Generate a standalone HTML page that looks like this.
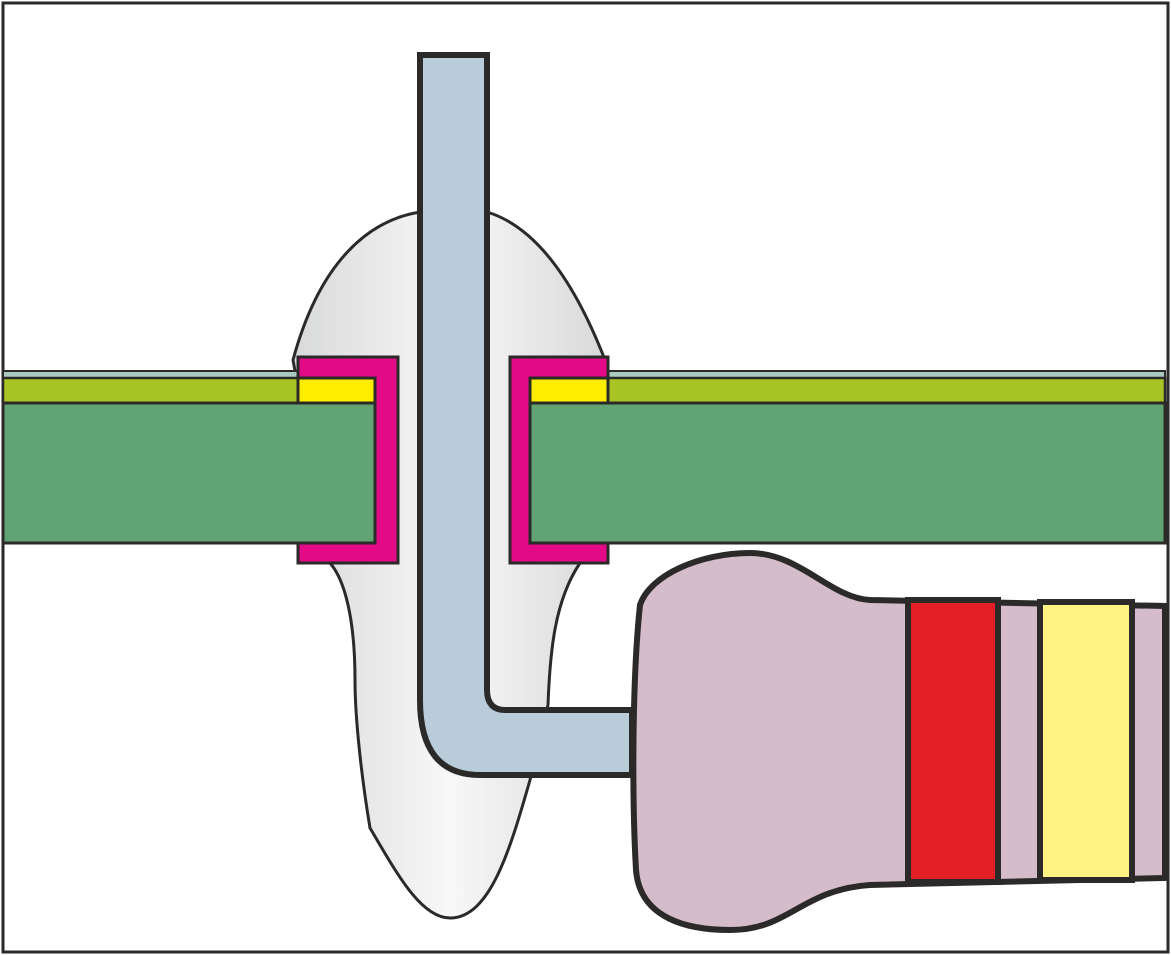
<!DOCTYPE html>
<html><head><style>html,body{margin:0;padding:0;background:#fff}svg{display:block}</style></head><body>
<svg width="1171" height="955" viewBox="0 0 1171 955" xmlns="http://www.w3.org/2000/svg">
<defs>
<linearGradient id="g" x1="0" x2="1" y1="0" y2="0">
<stop offset="0" stop-color="#d8d9da"/><stop offset="0.5" stop-color="#f8f8f8"/><stop offset="1" stop-color="#d8d9da"/>
</linearGradient>
</defs>
<rect x="3" y="3" width="1165" height="949" fill="#fff" stroke="#2b2a29" stroke-width="3"/>
<!-- bulb -->
<path d="M293,360 C320,260 370,220 420,212 L487,212 C530,225 570,270 605,360 L580,563 C555,600 550,650 548,705 L530,780 C510,850 490,918 450,918 C420,918 395,870 370,828 C362,780 355,720 355,680 C355,620 345,580 330,563 Z" fill="url(#g)" stroke="#2b2a29" stroke-width="3"/>
<!-- plates -->
<rect x="3" y="371" width="295" height="7" fill="#a9c9c2" stroke="#2b2a29" stroke-width="2"/>
<rect x="608" y="371" width="557" height="7" fill="#a9c9c2" stroke="#2b2a29" stroke-width="2"/>
<rect x="3" y="378" width="295" height="25" fill="#a8c424" stroke="#2b2a29" stroke-width="2.5"/>
<rect x="608" y="378" width="557" height="25" fill="#a8c424" stroke="#2b2a29" stroke-width="2.5"/>
<rect x="3" y="403" width="372" height="140" fill="#61a373" stroke="#2b2a29" stroke-width="3"/>
<rect x="530" y="403" width="635" height="140" fill="#61a373" stroke="#2b2a29" stroke-width="3"/>
<!-- pink clips -->
<path d="M298,357 H398 V563 H298 V543 H375 V378 H298 Z" fill="#e20a87" stroke="#2b2a29" stroke-width="3"/>
<rect x="298" y="378" width="77" height="25" fill="#ffed00" stroke="#2b2a29" stroke-width="3"/>
<path d="M608,357 H510 V563 H608 V543 H530 V378 H608 Z" fill="#e20a87" stroke="#2b2a29" stroke-width="3"/>
<rect x="530" y="378" width="78" height="25" fill="#ffed00" stroke="#2b2a29" stroke-width="3"/>
<!-- pin -->
<path d="M420,55 H487 V690 C487,703 493,710 505,710 H632 V775 H480 C440,775 420,750 420,700 Z" fill="#b8ccd9" stroke="#2b2a29" stroke-width="6"/>
<!-- resistor -->
<path d="M640,605 C650,575 700,553 750,553 C800,553 830,598 870,600 L1165,606 L1165,878 L870,885 C800,890 790,930 730,930 C690,930 640,920 636,870 C632,800 632,680 640,605 Z" fill="#d5bccb" stroke="#2b2a29" stroke-width="6"/>
<rect x="908" y="600" width="90" height="282" fill="#e31e24" stroke="#2b2a29" stroke-width="6"/>
<rect x="1040" y="602" width="92" height="278" fill="#fff385" stroke="#2b2a29" stroke-width="6"/>
<line x1="1165" y1="606" x2="1165" y2="878" stroke="#2b2a29" stroke-width="6"/>
</svg>
</body></html>
